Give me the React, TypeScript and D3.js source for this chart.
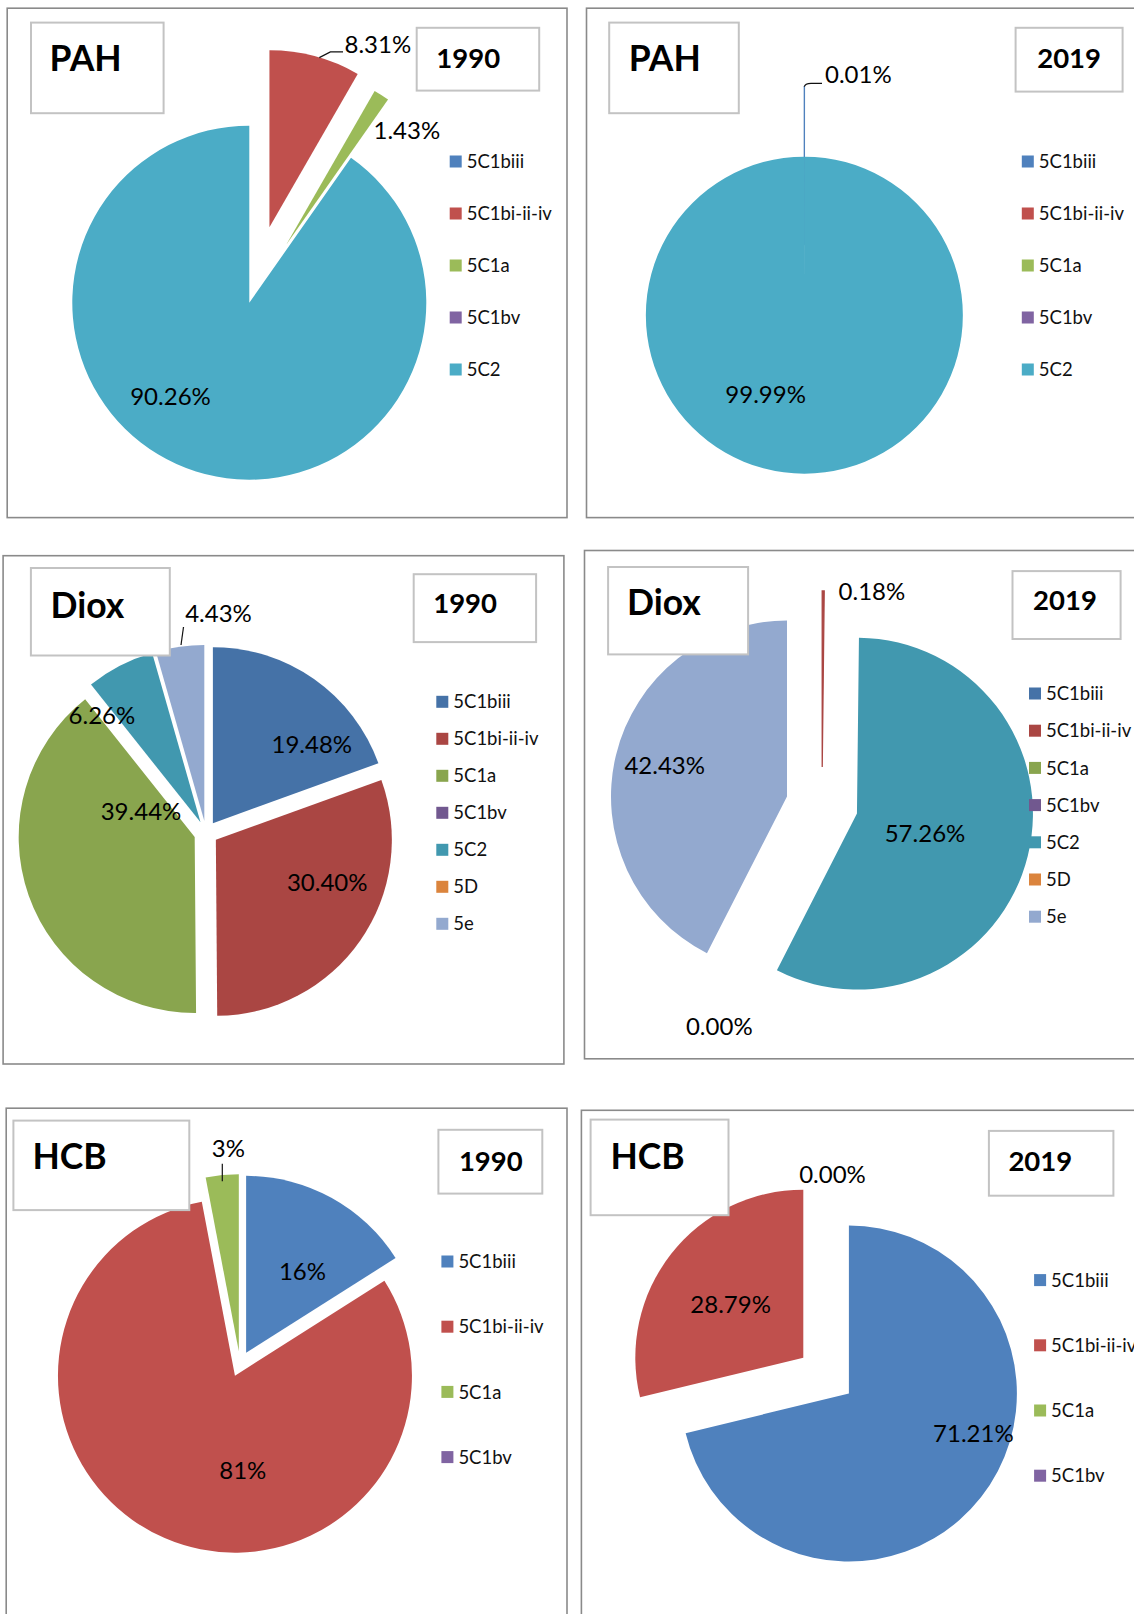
import React from 'react';
import * as d3 from 'd3';

// ---------- data ----------
const catPAH = ['5C1biii', '5C1bi-ii-iv', '5C1a', '5C1bv', '5C2'];
const catDiox = ['5C1biii', '5C1bi-ii-iv', '5C1a', '5C1bv', '5C2', '5D', '5e'];
const catHCB = ['5C1biii', '5C1bi-ii-iv', '5C1a', '5C1bv'];

const pah1990 = [0, 8.31, 1.43, 0, 90.26];
const pah2019 = [0.01, 0, 0, 0, 99.99];
const diox1990 = [19.48, 30.4, 39.44, 0, 6.26, 0, 4.43];
const diox2019 = [0, 0.18, 0, 0, 57.26, 0, 42.43];
const hcb1990 = [16, 81, 3, 0];
const hcb2019 = [71.21, 28.79, 0, 0];

const titles = ['PAH', 'PAH', 'Diox', 'Diox', 'HCB', 'HCB'];
const years = ['1990', '2019', '1990', '2019', '1990', '2019'];

// ---------- styles ----------
const paletteOffice = ['#4F81BD', '#C0504D', '#9BBB59', '#8064A2', '#4BACC6'];
const paletteDiox = ['#4572A7', '#AA4643', '#89A54E', '#71588F', '#4198AF', '#DB843D', '#93A9CF'];
const FONT = "Lato, 'Open Sans', sans-serif";
const LABEL_FS = 24;
const LEGEND_FS = 18.5;
const TITLE_FS = 35.5;
const YEAR_FS = 27.5;

type Lbl = [number, number, string];
interface PanelCfg {
  cats: string[];
  values: number[];
  colors: string[];
  decimals: number;
  frame: number[];
  titleBox: number[];
  titleX: number;
  titleY: number;
  yearBox: number[];
  yearX: number;
  yearY: number;
  cx: number;
  cy: number;
  r: number;
  explode: number[];
  labels: Record<number, Lbl>;
  leaders: string[];
  legendX: number;
  legendY0: number;
  legendDy: number;
}

const panels: PanelCfg[] = [
  {
    cats: catPAH, values: pah1990, colors: paletteOffice, decimals: 2,
    frame: [7.2, 8.2, 567, 517.6], titleBox: [31, 22.6, 163.6, 113.2], titleX: 49.5, titleY: 58.7,
    yearBox: [416.7, 27.8, 539.2, 90.6], yearX: 436.3, yearY: 57.6,
    cx: 249.3, cy: 302.7, r: 177, explode: [0, 78, 69, 0, 0],
    labels: { 1: [344.5, 44, 'start'], 2: [373.5, 130.5, 'start'], 4: [170.5, 396.5, 'middle'] },
    leaders: ['M319.3,57.6 L330.4,51.9 L343,51.9'],
    legendX: 449.7, legendY0: 161.5, legendDy: 52,
  },
  {
    cats: catPAH, values: pah2019, colors: paletteOffice, decimals: 2,
    frame: [586.5, 8.2, 1140, 517.6], titleBox: [609.2, 22.6, 738.8, 113.2], titleX: 628.7, titleY: 58.7,
    yearBox: [1015.6, 27.8, 1122.6, 91.6], yearX: 1037.2, yearY: 57.6,
    cx: 804.3, cy: 315.2, r: 158.5, explode: [70, 0, 0, 0, 0],
    labels: { 0: [825, 74, 'start'], 4: [765.6, 394.1, 'middle'] },
    leaders: ['M804.3,86.7 Q805,83.3 811,83.3 L822,83.3'],
    legendX: 1021.8, legendY0: 161.5, legendDy: 52,
  },
  {
    cats: catDiox, values: diox1990, colors: paletteDiox, decimals: 2,
    frame: [3.1, 555.7, 563.9, 1064], titleBox: [30.9, 568, 169.8, 655.5], titleX: 50.5, titleY: 605,
    yearBox: [413.7, 574.2, 536.1, 642.1], yearX: 433.2, yearY: 603,
    cx: 206, cy: 833, r: 176, explode: [12, 12, 12, 12, 12, 12, 12],
    labels: {
      0: [311.8, 744, 'middle'], 1: [327.2, 881.9, 'middle'], 2: [141, 810.9, 'middle'],
      4: [101.9, 715.2, 'middle'], 6: [185.2, 613.3, 'start'],
    },
    leaders: ['M181,645 L183.5,627'],
    legendX: 436.3, legendY0: 701.8, legendDy: 37,
  },
  {
    cats: catDiox, values: diox2019, colors: paletteDiox, decimals: 2,
    frame: [584.5, 550.5, 1140, 1058.8], titleBox: [608.1, 567, 748.1, 654.4], titleX: 627, titleY: 602,
    yearBox: [1012.5, 571.1, 1120.6, 639], yearX: 1033.1, yearY: 600,
    cx: 822, cy: 805, r: 176, explode: [36, 38, 36, 36, 36, 36, 36],
    labels: { 1: [838.6, 591.7, 'start'], 4: [925, 833.5, 'middle'], 5: [719.3, 1025.9, 'middle'], 6: [664.7, 765.6, 'middle'] },
    leaders: [],
    legendX: 1029, legendY0: 693.5, legendDy: 37.2,
  },
  {
    cats: catHCB, values: hcb1990, colors: paletteOffice, decimals: 0,
    frame: [6.2, 1108.2, 567, 1620], titleBox: [13.4, 1120.6, 189.3, 1210.1], titleX: 32.4, titleY: 1156.6,
    yearBox: [438.4, 1129.8, 542.3, 1193.6], yearX: 458.9, yearY: 1160.7,
    cx: 240, cy: 1364, r: 177, explode: [12.7, 12.7, 12.7, 12.7],
    labels: { 0: [302.5, 1271.8, 'middle'], 1: [242.8, 1470.4, 'middle'], 2: [228.4, 1148.4, 'middle'] },
    leaders: ['M222.3,1163.8 L222.3,1181.3'],
    legendX: 441.4, legendY0: 1261.5, legendDy: 65.2,
  },
  {
    cats: catHCB, values: hcb2019, colors: paletteOffice, decimals: 2,
    frame: [581.4, 1110.3, 1140, 1620], titleBox: [590.6, 1119.6, 728.5, 1215.2], titleX: 610.5, titleY: 1156.6,
    yearBox: [988.9, 1130.9, 1113.4, 1195.7], yearX: 1008.4, yearY: 1160.7,
    cx: 826.1, cy: 1375.6, r: 168, explode: [29, 29, 29, 29],
    labels: { 0: [973.4, 1433.4, 'middle'], 1: [730.6, 1304.8, 'middle'], 2: [832.5, 1174.1, 'middle'] },
    leaders: [],
    legendX: 1034.1, legendY0: 1280.1, legendDy: 65.2,
  },
];

function Panel({ p, title, year }: { p: PanelCfg; title: string; year: string }) {
  const pie = d3.pie<number>().sort(null).value((d) => d);
  const arcs = pie(p.values);
  const arcGen = d3.arc<d3.PieArcDatum<number>>().innerRadius(0).outerRadius(p.r);
  const fmt = d3.format(`.${p.decimals}f`);
  const [fx0, fy0, fx1, fy1] = p.frame;
  const [tx0, ty0, tx1, ty1] = p.titleBox;
  const [yx0, yy0, yx1, yy1] = p.yearBox;
  return (
    <g>
      <rect x={fx0} y={fy0} width={fx1 - fx0} height={fy1 - fy0} fill="#fff" stroke="#8a8a8a" strokeWidth={1.6} />
      {arcs.map((a, i) => {
        if (a.value === 0) return null;
        const mid = (a.startAngle + a.endAngle) / 2;
        const e = p.explode[i];
        const vx = p.cx + e * Math.sin(mid);
        const vy = p.cy - e * Math.cos(mid);
        const tiny = a.endAngle - a.startAngle < 0.02;
        return (
          <path
            key={i}
            d={arcGen(a) || ''}
            transform={`translate(${vx},${vy})`}
            fill={p.colors[i]}
            stroke={tiny ? p.colors[i] : 'none'}
            strokeWidth={tiny ? 1.3 : 0}
          />
        );
      })}
      {p.leaders.map((d, i) => (
        <path key={i} d={d} fill="none" stroke="#111" strokeWidth={1.2} />
      ))}
      {Object.entries(p.labels).map(([k, [x, y, anchor]]) => {
        const i = +k;
        return (
          <text
            key={k}
            x={x}
            y={y + 0.36 * LABEL_FS}
            textAnchor={anchor as any}
            fontFamily={FONT}
            fontSize={LABEL_FS}
            fill="#000"
          >
            {fmt(p.values[i]) + '%'}
          </text>
        );
      })}
      <rect x={tx0} y={ty0} width={tx1 - tx0} height={ty1 - ty0} fill="#fff" stroke="#c3c3c3" strokeWidth={2} />
      <text x={p.titleX} y={p.titleY + 0.36 * TITLE_FS} fontFamily={FONT} fontWeight={700} fontSize={TITLE_FS} fill="#000">
        {title}
      </text>
      <rect x={yx0} y={yy0} width={yx1 - yx0} height={yy1 - yy0} fill="#fff" stroke="#c3c3c3" strokeWidth={2} />
      <text x={p.yearX} y={p.yearY + 0.36 * YEAR_FS} fontFamily={FONT} fontWeight={700} fontSize={YEAR_FS} fill="#000">
        {year}
      </text>
      {p.cats.map((c, i) => {
        const y = p.legendY0 + i * p.legendDy;
        return (
          <g key={c}>
            <rect x={p.legendX} y={y - 6} width={12} height={12} fill={p.colors[i]} />
            <text x={p.legendX + 17} y={y + 0.36 * LEGEND_FS} fontFamily={FONT} fontSize={LEGEND_FS} fill="#111">
              {c}
            </text>
          </g>
        );
      })}
    </g>
  );
}

export default function App() {
  return (
    <svg
      width={1134}
      height={1614}
      viewBox="0 0 1134 1614"
      style={{ position: 'absolute', left: 0, top: 0, background: '#fff' }}
    >
      <rect x={0} y={0} width={1134} height={1614} fill="#fff" />
      {panels.map((p, i) => (
        <Panel key={i} p={p} title={titles[i]} year={years[i]} />
      ))}
    </svg>
  );
}
